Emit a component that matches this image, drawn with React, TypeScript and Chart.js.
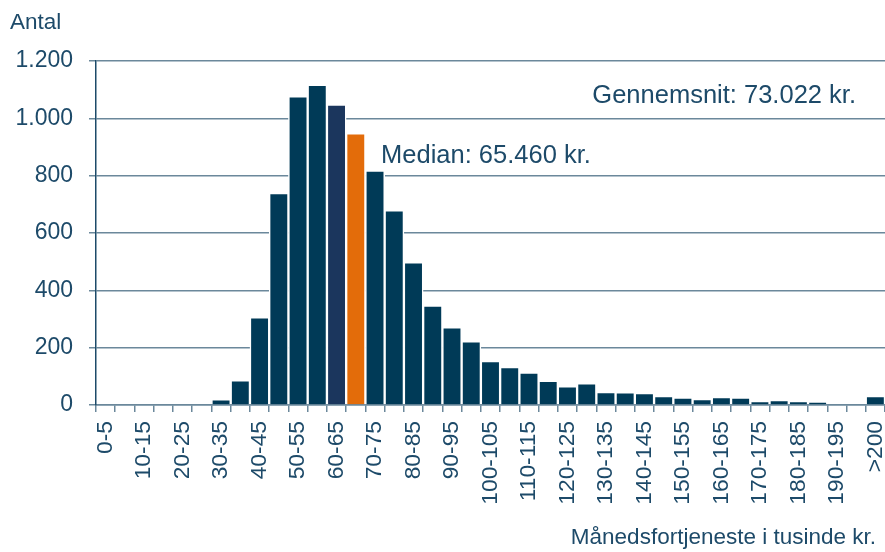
import React, { useEffect, useRef } from 'react';
import { Chart, registerables } from 'chart.js';

Chart.register(...registerables);

const categories = [
  '0-5', '5-10', '10-15', '15-20', '20-25', '25-30', '30-35', '35-40', '40-45', '45-50',
  '50-55', '55-60', '60-65', '65-70', '70-75', '75-80', '80-85', '85-90', '90-95', '95-100',
  '100-105', '105-110', '110-115', '115-120', '120-125', '125-130', '130-135', '135-140', '140-145', '145-150',
  '150-155', '155-160', '160-165', '165-170', '170-175', '175-180', '180-185', '185-190', '190-195', '195-200',
  '>200',
];

const counts = [
  0, 0, 0, 0, 0, 0, 20, 86, 306, 739,
  1077, 1117, 1048, 948, 818, 679, 498, 347, 271, 222,
  153, 132, 113, 84, 65, 76, 45, 44, 42, 31,
  26, 21, 28, 26, 14, 17, 14, 10, 0, 0,
  31,
];

const shownTickLabels = [
  '0-5', '10-15', '20-25', '30-35', '40-45', '50-55', '60-65', '70-75', '80-85', '90-95',
  '100-105', '110-115', '120-125', '130-135', '140-145', '150-155', '160-165', '170-175', '180-185', '190-195',
  '>200',
];

const yTicks = [0, 200, 400, 600, 800, 1000, 1200];

const highlightNavy = '60-65';
const highlightOrange = '65-70';

const FONT = '"Liberation Sans", Arial, Helvetica, sans-serif';
const TEXT = '#1d4a69';
const BAR = '#003a57';
const BAR2 = '#1b365d';
const ORANGE = '#e36c0a';
const GRID = '#6b889b';

function fmt(v: number): string {
  if (v >= 1000) {
    return `${Math.floor(v / 1000)}.${String(v % 1000).padStart(3, '0')}`;
  }
  return String(v);
}

const textPlugin = {
  id: 'textPlugin',
  afterDraw(chart: any) {
    const { ctx, chartArea, scales } = chart;
    const x = scales.x;
    const y = scales.y;
    ctx.save();
    ctx.fillStyle = TEXT;
    ctx.textBaseline = 'alphabetic';
    ctx.font = `22.5px ${FONT}`;
    ctx.textAlign = 'left';
    ctx.fillText('Antal', 10, 29);
    ctx.textAlign = 'right';
    ctx.fillText('Månedsfortjeneste i tusinde kr.', chartArea.right - 9, 544);
    ctx.font = `25.5px ${FONT}`;
    ctx.fillText('Gennemsnit: 73.022 kr.', chartArea.right - 29, y.getPixelForValue(1055));
    ctx.textAlign = 'left';
    ctx.fillText('Median: 65.460 kr.', x.getPixelForValue(14) + 6, y.getPixelForValue(843));
    ctx.restore();
  },
};

export default function App() {
  const ref = useRef<HTMLCanvasElement | null>(null);

  useEffect(() => {
    if (!ref.current) return;
    const colors = categories.map((c) =>
      c === highlightNavy ? BAR2 : c === highlightOrange ? ORANGE : BAR
    );
    const chart = new Chart(ref.current, {
      type: 'bar',
      data: {
        labels: categories,
        datasets: [
          {
            data: counts,
            backgroundColor: colors,
            borderColor: '#ffffff',
            borderWidth: 1.5,
            barPercentage: 1,
            categoryPercentage: 1,
          },
        ],
      },
      options: {
        animation: false,
        responsive: false,
        devicePixelRatio: 1,
        layout: { padding: { top: 61, left: 0, right: 0, bottom: 0 } },
        plugins: {
          legend: { display: false },
          tooltip: { enabled: false },
        },
        scales: {
          x: {
            offset: true,
            grid: {
              offset: true,
              drawOnChartArea: false,
              drawTicks: true,
              tickLength: 7,
              color: GRID,
              lineWidth: 1.5,
            },
            border: { display: true, color: GRID, width: 1.5 },
            ticks: {
              autoSkip: false,
              maxRotation: 90,
              minRotation: 90,
              padding: 9,
              color: TEXT,
              font: { family: FONT, size: 22.8 },
              callback: (_v: any, i: number) =>
                shownTickLabels.includes(categories[i]) ? categories[i] : '',
            },
            afterFit: (s: any) => {
              s.height = 147;
              s.paddingLeft = 0;
              s.paddingRight = 0;
            },
          },
          y: {
            min: 0,
            max: 1200,
            afterBuildTicks: (s: any) => {
              s.ticks = yTicks.map((v) => ({ value: v }));
            },
            grid: {
              color: GRID,
              lineWidth: 1.5,
              drawTicks: true,
              tickLength: 7,
            },
            border: { display: true, color: TEXT, width: 1.5 },
            ticks: {
              padding: 16,
              color: TEXT,
              font: { family: FONT, size: 23 },
              callback: (v: any) => fmt(Number(v)),
            },
            afterFit: (s: any) => {
              s.width = 96;
              s.paddingTop = 0;
              s.paddingBottom = 0;
            },
          },
        },
      },
      plugins: [textPlugin],
    });
    return () => chart.destroy();
  }, []);

  return (
    <div style={{ position: 'absolute', left: 0, top: 0, width: 885, height: 552, background: '#fff' }}>
      <canvas ref={ref} width={885} height={552} style={{ width: 885, height: 552, display: 'block' }} />
    </div>
  );
}
